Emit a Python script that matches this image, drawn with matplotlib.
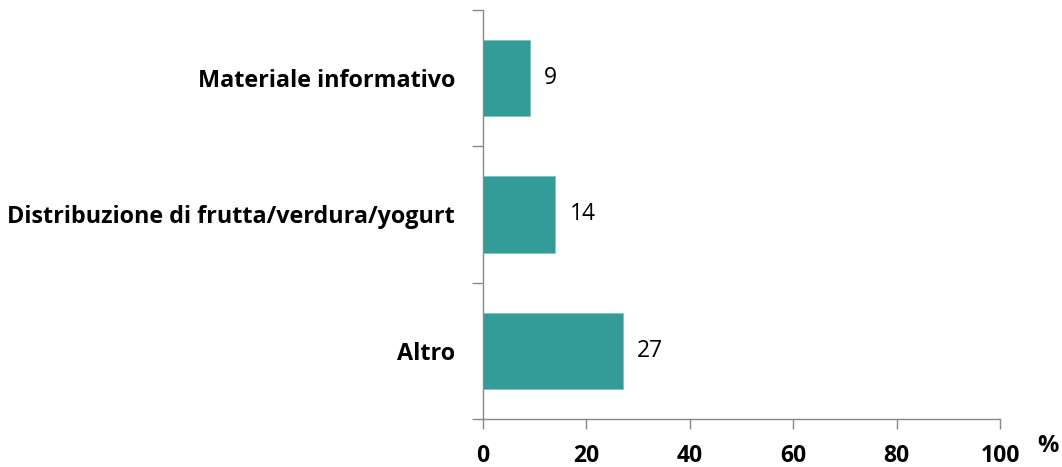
import numpy as np
import matplotlib.pyplot as plt

# data, top to bottom
categories = ['Materiale informativo', 'Distribuzione di frutta/verdura/yogurt', 'Altro']
values = [9, 14, 27]
xticks = [0, 20, 40, 60, 80, 100]

plt.rcParams['font.family'] = ['Open Sans', 'DejaVu Sans']

fig = plt.figure(figsize=(10.62, 4.67), dpi=100)
ax = fig.add_axes([0.4548, 0.1028, 0.9416 - 0.4548, 0.9786 - 0.1028])

y = np.arange(len(categories))[::-1]
ax.barh(y, values, height=0.56, color='#339B98', edgecolor='#7fc4c1', linewidth=0.6)
for yi, v in zip(y, values):
    ax.text(v + 2.8, yi, str(v), va='center', ha='left', fontsize=16.5, color='black')

ax.set_xlim(0, 100)
ax.set_ylim(-0.5, len(categories) - 0.5)
ax.set_xticks(xticks)
ax.set_xticklabels([str(t) for t in xticks], fontsize=16.5, fontweight='bold')
ax.set_yticks(y)
ax.set_yticklabels(categories, fontsize=16.8, fontweight='bold')
ax.tick_params(axis='y', length=0, pad=20)
ax.tick_params(axis='x', length=7, width=1, color='#888888', direction='out', pad=11)
# minor ticks on y at the category boundaries
ax.set_yticks(np.arange(-0.5, len(categories), 1.0), minor=True)
ax.tick_params(axis='y', which='minor', length=8, width=1, color='#888888', direction='out')

for s in ['top', 'right']:
    ax.spines[s].set_visible(False)
for s in ['left', 'bottom']:
    ax.spines[s].set_color('#888888')
    ax.spines[s].set_linewidth(1)

fig.text(0.987, 0.019, '%', fontsize=17, fontweight='bold', ha='center', va='bottom')

fig.savefig('out.png', dpi=100)
